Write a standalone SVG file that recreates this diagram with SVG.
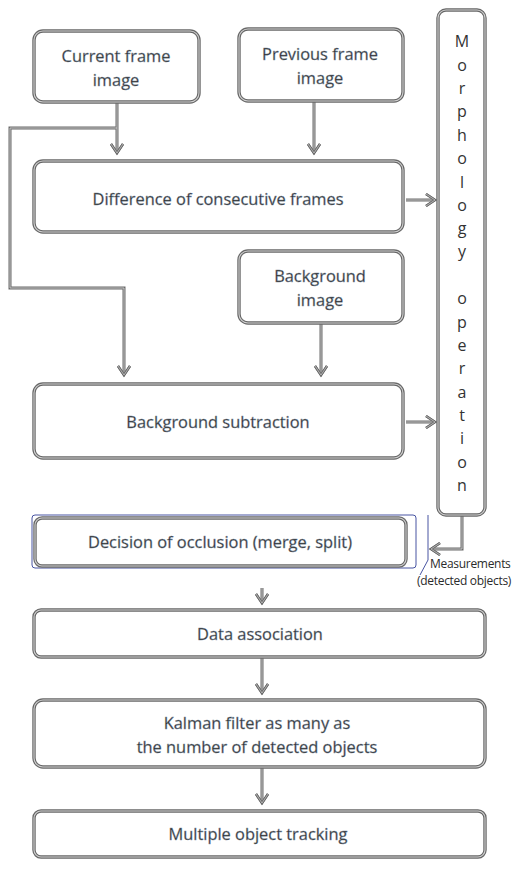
<svg xmlns="http://www.w3.org/2000/svg" width="524" height="874" viewBox="0 0 524 874">
<defs>
<style>
.box{fill:#fff;stroke:#686868;stroke-width:3.4}
.inner{fill:none;stroke:#cfcfcf;stroke-width:1.1}
.t{font-family:"Open Sans","Noto Sans",sans-serif;font-size:16.4px;fill:#2b2b2b;text-anchor:middle;stroke:#7f8fa0;stroke-width:0.4}
.m{font-family:"Open Sans","Noto Sans",sans-serif;font-size:16px;fill:#333;text-anchor:middle}
.s{font-family:"Open Sans","Noto Sans",sans-serif;font-size:12px;fill:#2b2b2b;letter-spacing:-0.3px}
</style>
<marker id="ah" markerWidth="14" markerHeight="14" refX="10" refY="7" orient="auto" markerUnits="userSpaceOnUse">
<path d="M1,1 L10,7 L1,13" fill="none" stroke="#6a6a6a" stroke-width="2.4"/>
<path d="M1,1 L10,7 L1,13" fill="none" stroke="#d0d0d0" stroke-width="0.7"/>
</marker>
<g id="cl" fill="none" marker-end="url(#ah)">
<path d="M117,103 V153"/>
<path d="M314,101 V153"/>
<path d="M117,128 H10 V288 H124 V375"/>
<path d="M321,323 V375"/>
<path d="M406,200 H435"/>
<path d="M406,422 H435"/>
<path d="M462,515 V549 H431"/>
<path d="M262,588 V603"/>
<path d="M262,657 V693"/>
<path d="M262,767 V803"/>
</g>
</defs>
<rect width="524" height="874" fill="#fff"/>
<g id="connectors">
<use href="#cl" stroke="#6a6a6a" stroke-width="3"/>
<use href="#cl" stroke="#d0d0d0" stroke-width="0.9"/>
</g>
<g id="n-current"><rect class="box" x="34" y="31" width="165" height="71" rx="9"/><rect class="inner" x="34" y="31" width="165" height="71" rx="9"/><text class="t" x="116" y="62">Current frame</text><text class="t" x="116" y="86">image</text></g>
<g id="n-previous"><rect class="box" x="239" y="29" width="164" height="72" rx="9"/><rect class="inner" x="239" y="29" width="164" height="72" rx="9"/><text class="t" x="320" y="60">Previous frame</text><text class="t" x="320" y="84">image</text></g>
<g id="n-morph"><rect class="box" x="438" y="10" width="47" height="505" rx="8"/><rect class="inner" x="438" y="10" width="47" height="505" rx="8"/>
<text class="m"><tspan x="462" y="47">M</tspan><tspan x="462" y="71">o</tspan><tspan x="462" y="94">r</tspan><tspan x="462" y="117">p</tspan><tspan x="462" y="141">h</tspan><tspan x="462" y="164">o</tspan><tspan x="462" y="188">l</tspan><tspan x="462" y="211">o</tspan><tspan x="462" y="234">g</tspan><tspan x="462" y="257">y</tspan><tspan x="462" y="304">o</tspan><tspan x="462" y="328">p</tspan><tspan x="462" y="351">e</tspan><tspan x="462" y="374">r</tspan><tspan x="462" y="398">a</tspan><tspan x="462" y="421">t</tspan><tspan x="462" y="444">i</tspan><tspan x="462" y="468">o</tspan><tspan x="462" y="491">n</tspan></text></g>
<g id="n-diff"><rect class="box" x="34" y="161" width="369" height="71" rx="9"/><rect class="inner" x="34" y="161" width="369" height="71" rx="9"/><text class="t" x="218" y="205">Difference of consecutive frames</text></g>
<g id="n-bgimg"><rect class="box" x="239" y="251" width="164" height="72" rx="9"/><rect class="inner" x="239" y="251" width="164" height="72" rx="9"/><text class="t" x="320" y="282">Background</text><text class="t" x="320" y="306">image</text></g>
<g id="n-bgsub"><rect class="box" x="34" y="384" width="369" height="74" rx="9"/><rect class="inner" x="34" y="384" width="369" height="74" rx="9"/><text class="t" x="218" y="428">Background subtraction</text></g>
<g id="n-decision"><rect x="32" y="515" width="384" height="53" rx="3" fill="none" stroke="#1a2a8a" stroke-width="0.8"/><rect class="box" x="35" y="518" width="371" height="48" rx="7"/><rect class="inner" x="35" y="518" width="371" height="48" rx="7"/><text class="t" x="220" y="548">Decision of occlusion (merge, split)</text></g>
<g id="l-meas"><path d="M428,515 V560 L420,575" fill="none" stroke="#1a2a8a" stroke-width="0.8"/><text class="s" x="430" y="568">Measurements</text><text class="s" x="417" y="585">(detected objects)</text></g>
<g id="n-data"><rect class="box" x="34" y="610" width="451" height="47" rx="7"/><rect class="inner" x="34" y="610" width="451" height="47" rx="7"/><text class="t" x="260" y="640">Data association</text></g>
<g id="n-kalman"><rect class="box" x="34" y="700" width="451" height="67" rx="9"/><rect class="inner" x="34" y="700" width="451" height="67" rx="9"/><text class="t" x="257" y="729">Kalman filter as many as</text><text class="t" x="257" y="753">the number of detected objects</text></g>
<g id="n-mot"><rect class="box" x="34" y="811" width="451" height="46" rx="7"/><rect class="inner" x="34" y="811" width="451" height="46" rx="7"/><text class="t" x="258" y="840">Multiple object tracking</text></g>
</svg>
